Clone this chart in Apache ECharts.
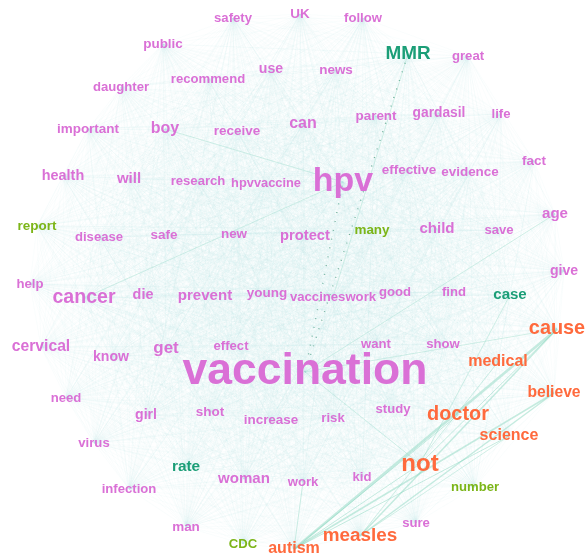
<!DOCTYPE html>
<html>
<head>
<meta charset="utf-8">
<script src="https://cdn.jsdelivr.net/npm/echarts@6/dist/echarts.min.js"></script>
<style>
  html, body { margin: 0; padding: 0; background: #fff; }
  #panel { width: 585px; height: 555px; }
</style>
</head>
<body>
<div id="panel"></div>
<script>
// word nodes
const words = ['vaccination','hpv','not','doctor','cause','measles','MMR','cancer','get','boy',
  'can','cervical','child','age','medical','believe','science','autism','health','will',
  'protect','prevent','case','rate','woman','safety','UK','follow','public','use',
  'news','great','daughter','recommend','parent','gardasil','life','important','receive','effective',
  'evidence','fact','research','hpvvaccine','report','disease','safe','new','many','save',
  'give','help','die','young','vaccineswork','good','find','know','effect','want',
  'show','need','girl','shot','increase','risk','study','virus','work','kid',
  'number','infection','man','sure','CDC'];
// layout coordinates
const nodeX = [305,343,420,458,557,360,408,84,166,165,
  303,41,437,555,498,554,509,294,63,129,
  305,205,510,186,244,233,300,363,163,271,
  336,468,121,208,376,439,501,88,237,409,
  470,534,198,266,37,99,164,234,372,499,
  564,30,143,267,333,395,454,111,231,376,
  443,66,146,210,271,333,393,94,303,362,
  475,129,186,416,243];
const nodeY = [372,182,464,415,329,536,54,298,348,129,
  124,347,229,214,362,393,436,549,176,179,
  236,296,295,467,479,18,14,18,44,69,
  70,56,87,79,116,113,114,129,131,170,
  172,161,181,183,226,237,235,234,230,230,
  271,284,295,293,297,292,292,357,346,344,
  344,398,415,412,420,418,409,443,482,477,
  487,489,527,523,544];
// community of each word
const group = [0,0,1,1,1,1,2,0,0,0,
  0,0,0,0,1,1,1,1,0,0,
  0,0,2,2,0,0,0,0,0,0,
  0,0,0,0,0,0,0,0,0,0,
  0,0,0,0,3,0,0,0,3,0,
  0,0,0,0,0,0,0,0,0,0,
  0,0,0,0,0,0,0,0,0,0,
  3,0,0,0,3];
// word frequency
const freq = [100,67,36,23,23,20,20,22,14,11,
  11,10,8,8,11,10,11,11,6,8,
  7,8,8,9,8,2,3,2,3,5,
  3,2,2,2,3,4,2,3,3,3,
  3,3,2,1,3,2,3,3,3,2,
  5,2,6,3,2,2,2,5,2,2,
  2,2,5,3,3,2,2,2,2,2,
  2,2,3,2,2];
// strong co-occurrence edges
const strongLinks = [
  ['cause','autism',2.5],['cause','measles',1.5],['believe','autism',1.5],['believe','measles',1.5],
  ['science','autism',1],['not','autism',1],['cause','not',1],['cause','vaccination',0.8],
  ['case','not',0.8],['doctor','autism',1],['medical','measles',0.8],['age','vaccination',0.8],
  ['MMR','vaccineswork',0.8],['boy','hpv',0.8],['cancer','hpv',0.8],['work','autism',0.8],
  ['vaccination','not',0.8],['science','measles',0.8]
];
const dottedLinks = [['MMR','vaccination'],['hpv','vaccination']];

const colors = ['#da70d6', '#ff6a3d', '#1b9e77', '#7cb518'];

let panel = echarts.init(document.getElementById('panel'));

let nodes = words.map((w, i) => ({
  name: w,
  value: [nodeX[i], nodeY[i]],
  label: {
    color: colors[group[i]],
    fontSize: 12.5 + freq[i] * 0.32
  }
}));

let strongMap = {};
strongLinks.forEach(l => {
  strongMap[l[0] + '|' + l[1]] = l[2];
  strongMap[l[1] + '|' + l[0]] = l[2];
});
let dottedMap = {};
dottedLinks.forEach(l => {
  dottedMap[l[0] + '|' + l[1]] = 1;
  dottedMap[l[1] + '|' + l[0]] = 1;
});

let links = [];
for (let i = 0; i < words.length; i++) {
  for (let j = i + 1; j < words.length; j++) {
    let key = words[i] + '|' + words[j];
    if (strongMap[key]) {
      links.push({
        source: words[i], target: words[j],
        lineStyle: { color: '#7fd3b8', opacity: 0.45, width: strongMap[key] }
      });
    } else if (dottedMap[key]) {
      links.push({
        source: words[i], target: words[j],
        lineStyle: { color: '#1f7f5c', opacity: 0.7, width: 1.4, type: [1, 8] }
      });
    } else {
      links.push({ source: words[i], target: words[j] });
    }
  }
}

let option = {
  animation: false,
  grid: { left: 0, right: 0, top: 0, bottom: 0 },
  xAxis: { type: 'value', min: 0, max: 585, show: false },
  yAxis: { type: 'value', min: 0, max: 555, inverse: true, show: false },
  series: [{
    type: 'graph',
    coordinateSystem: 'cartesian2d',
    symbol: 'circle',
    symbolSize: 1,
    itemStyle: { color: 'rgba(0,0,0,0)' },
    label: {
      show: true,
      position: 'inside',
      fontFamily: 'Liberation Sans',
      fontWeight: 'bold',
      align: 'center',
      verticalAlign: 'middle'
    },
    lineStyle: { color: '#b6e1e1', opacity: 0.12, width: 0.6 },
    emphasis: { disabled: true },
    data: nodes,
    links: links
  }]
};
panel.setOption(option, true);
</script>
</body>
</html>
